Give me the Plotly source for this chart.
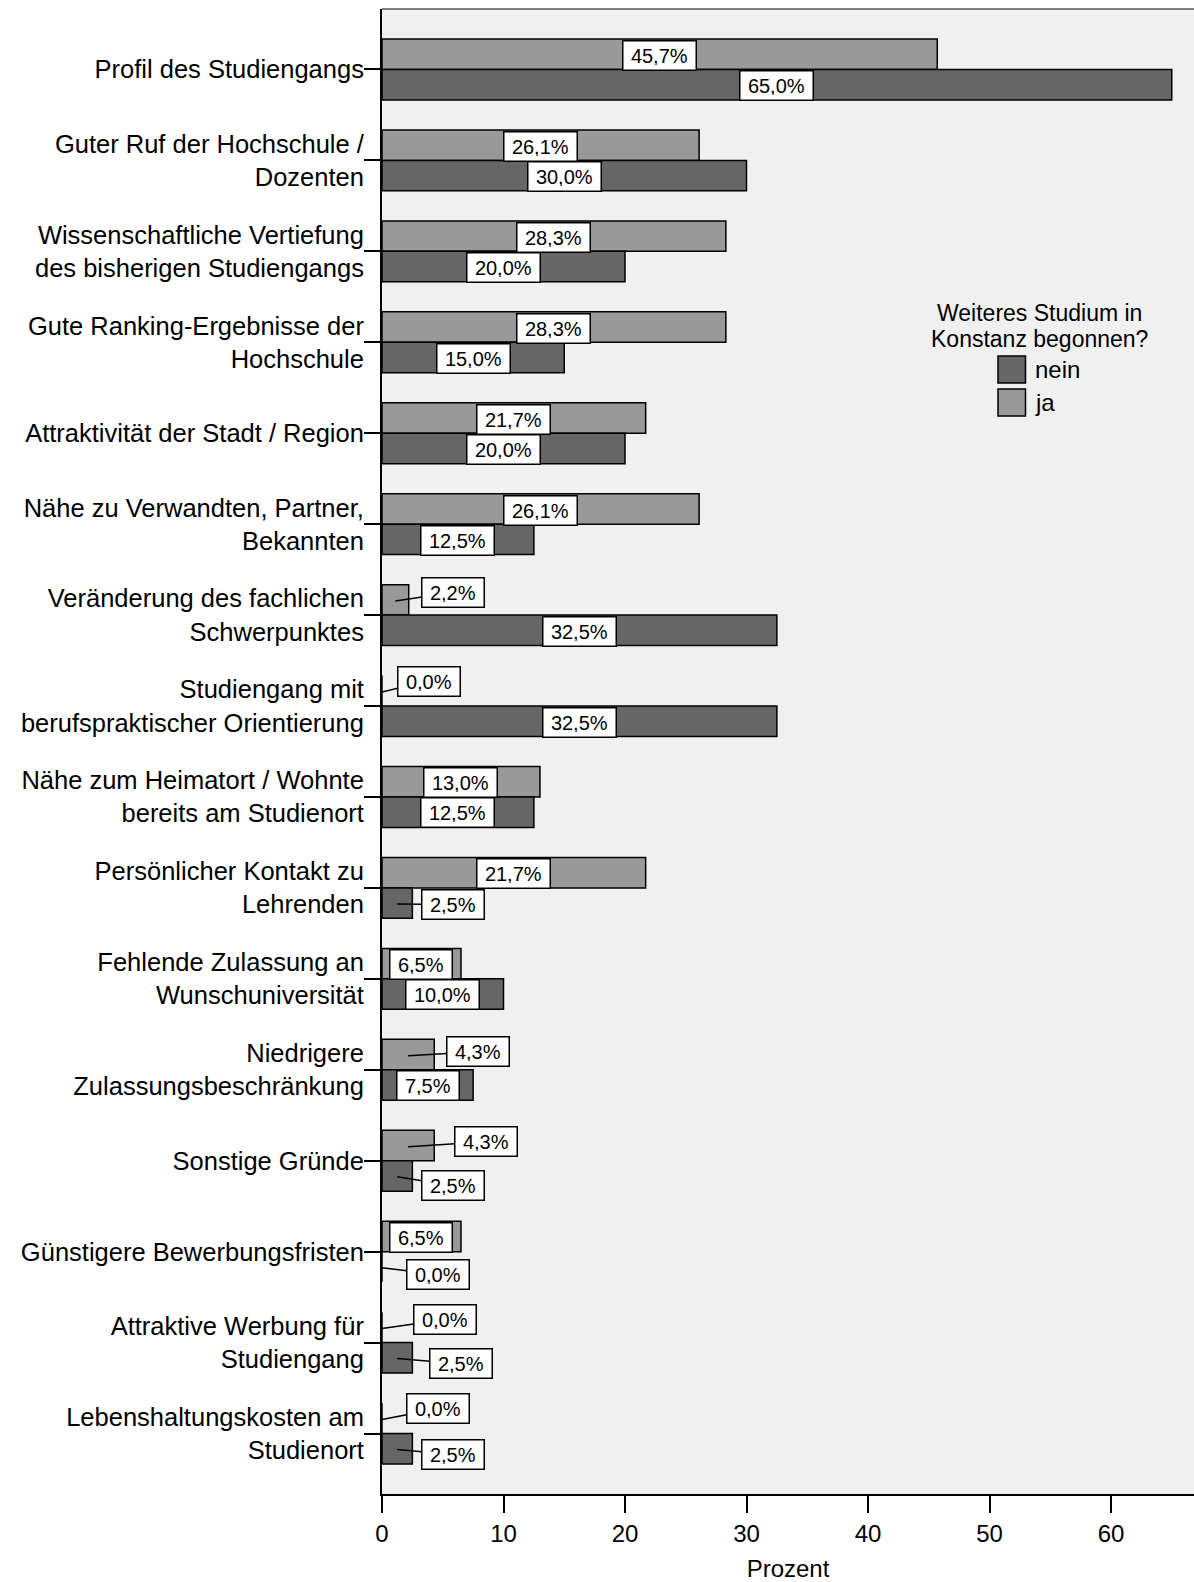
import plotly.graph_objects as go

# ---------------- data ----------------
categories = [
    "Profil des Studiengangs",
    "Guter Ruf der Hochschule /<br>Dozenten",
    "Wissenschaftliche Vertiefung<br>des bisherigen Studiengangs",
    "Gute Ranking-Ergebnisse der<br>Hochschule",
    "Attraktivität der Stadt / Region",
    "Nähe zu Verwandten, Partner,<br>Bekannten",
    "Veränderung des fachlichen<br>Schwerpunktes",
    "Studiengang mit<br>berufspraktischer Orientierung",
    "Nähe zum Heimatort / Wohnte<br>bereits am Studienort",
    "Persönlicher Kontakt zu<br>Lehrenden",
    "Fehlende Zulassung an<br>Wunschuniversität",
    "Niedrigere<br>Zulassungsbeschränkung",
    "Sonstige Gründe",
    "Günstigere Bewerbungsfristen",
    "Attraktive Werbung für<br>Studiengang",
    "Lebenshaltungskosten am<br>Studienort",
]
ja_values = [45.7, 26.1, 28.3, 28.3, 21.7, 26.1, 2.2, 0.0, 13.0, 21.7, 6.5, 4.3, 4.3, 6.5, 0.0, 0.0]
nein_values = [65.0, 30.0, 20.0, 15.0, 20.0, 12.5, 32.5, 32.5, 12.5, 2.5, 10.0, 7.5, 2.5, 0.0, 2.5, 2.5]
x_tick_values = [0, 10, 20, 30, 40, 50, 60]
series_names = ["nein", "ja"]
legend_title_lines = ["Weiteres Studium in", "Konstanz begonnen?"]
x_title = "Prozent"

# ---------------- style ----------------
FONT = "Arial, Liberation Sans, sans-serif"
COL_JA = "#999999"
COL_NEIN = "#666666"
W, H = 1194, 1582
L, R, T, B = 382, 0, 9, 88
n = len(categories)

# callout offsets (px) for labels of small bars: index -> (ax, ay)
callout_ja = {6: (58, -9), 7: (47, -11), 11: (70, -4), 12: (78, -5), 14: (63, -9), 15: (56, -11)}
callout_nein = {9: (56, 1), 12: (56, 9), 13: (56, 7), 14: (64, 5), 15: (56, 5)}

fig = go.Figure()
fig.add_trace(go.Bar(
    y=categories, x=ja_values, orientation="h", name=series_names[1],
    marker=dict(color=COL_JA, line=dict(color="black", width=1.5)),
    showlegend=False, hoverinfo="x+y",
))
fig.add_trace(go.Bar(
    y=categories, x=nein_values, orientation="h", name=series_names[0],
    marker=dict(color=COL_NEIN, line=dict(color="black", width=1.5)),
    showlegend=False, hoverinfo="x+y",
))


def fmt(v):
    return f"{v:.1f}%".replace(".", ",")


LAB_FS = 20


def box_width(text):
    digits = sum(ch.isdigit() for ch in text)
    return LAB_FS * (0.556 * digits + 0.278 + 0.889) + 6


annotations = []
for vals, callouts, yshift in ((ja_values, callout_ja, 14), (nein_values, callout_nein, -16)):
    for i, v in enumerate(vals):
        txt = fmt(v)
        a = dict(
            x=v / 2, y=categories[i], xref="x", yref="y", text=txt,
            font=dict(family=FONT, size=LAB_FS, color="black"),
            bgcolor="white", bordercolor="black", borderwidth=1.5, borderpad=4.5,
            width=box_width(txt), height=19, yshift=yshift,
        )
        if i in callouts:
            ax, ay = callouts[i]
            a.update(showarrow=True, ax=ax, ay=ay, arrowhead=0, arrowwidth=1.5,
                     arrowcolor="black", standoff=0, startstandoff=0)
        else:
            a.update(showarrow=False)
        annotations.append(a)

# legend (drawn manually to match large swatches)
pw = W - L - R
ph = H - T - B


def px2paper(px, py):
    return (px - L) / pw, (H - B - py) / ph


shapes = []
for (y0p, y1p, col) in ((356, 383, COL_NEIN), (389, 416, COL_JA)):
    x0, y0 = px2paper(998, y1p)
    x1, y1 = px2paper(1025.5, y0p)
    shapes.append(dict(type="rect", xref="paper", yref="paper", x0=x0, x1=x1, y0=y0, y1=y1,
                       fillcolor=col, line=dict(color="black", width=1.5)))
for name, cy in ((series_names[0], 369.5), (series_names[1], 402.5)):
    xp, yp = px2paper(1033, cy)
    annotations.append(dict(x=xp, y=yp, xref="paper", yref="paper", text=name, showarrow=False,
                            xanchor="left", yanchor="middle",
                            font=dict(family=FONT, size=24, color="black")))
for line, cy in zip(legend_title_lines, (313, 339)):
    xp, yp = px2paper(1039, cy)
    annotations.append(dict(x=xp, y=yp, xref="paper", yref="paper", text=line, showarrow=False,
                            xanchor="center", yanchor="middle",
                            font=dict(family=FONT, size=23, color="black")))

# top border of the plot frame
shapes.append(dict(type="line", xref="paper", yref="paper", x0=0, x1=1, y0=1, y1=1,
                   line=dict(color="#555555", width=1.5)))

fig.update_layout(
    width=W, height=H,
    margin=dict(l=L, r=R, t=T, b=B, pad=0),
    paper_bgcolor="white", plot_bgcolor="#f0f0f0",
    barmode="group", bargap=0.33, bargroupgap=0,
    font=dict(family=FONT, color="black"),
    annotations=annotations, shapes=shapes,
    showlegend=False,
)
fig.update_xaxes(
    range=[0, (W - L - R) / 12.15], tickvals=x_tick_values, ticktext=[str(t) for t in x_tick_values],
    showgrid=False, zeroline=False, showline=True, linecolor="black", linewidth=2,
    ticks="outside", ticklen=17, tickwidth=2, tickcolor="black",
    tickfont=dict(family=FONT, size=24),
    title=dict(text=x_title, font=dict(family=FONT, size=24), standoff=14),
)
fig.update_yaxes(
    type="category", categoryorder="array", categoryarray=categories,
    range=[n - 1 + 0.665, -0.665],
    showgrid=False, zeroline=False, showline=True, linecolor="black", linewidth=2,
    ticks="outside", ticklen=16, tickwidth=2, tickcolor="black",
    tickfont=dict(family=FONT, size=25.5), ticklabelstandoff=-5,
)

fig.write_html("out.html", config={"displayModeBar": False},
               post_script="document.body.style.margin='0';document.body.style.overflow='hidden';")
